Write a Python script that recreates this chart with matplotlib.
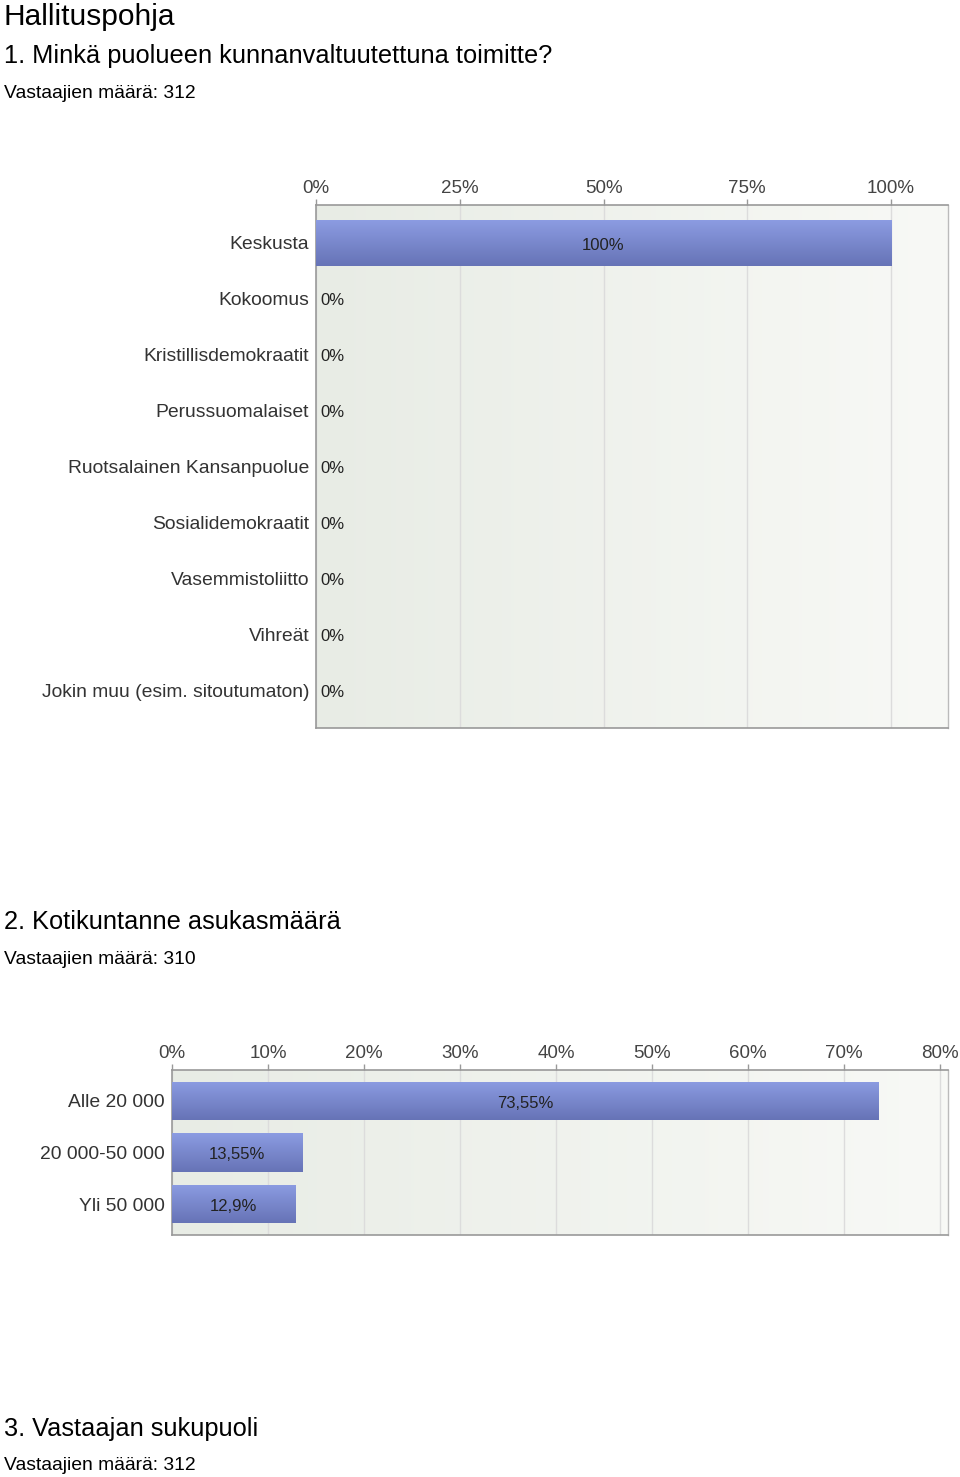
import matplotlib
matplotlib.use('Agg')
import matplotlib.pyplot as plt
import numpy as np
from matplotlib.colors import LinearSegmentedColormap

plt.rcParams['font.family'] = ['Liberation Sans', 'DejaVu Sans']

# data
puolueet = ['Keskusta', 'Kokoomus', 'Kristillisdemokraatit', 'Perussuomalaiset',
            'Ruotsalainen Kansanpuolue', 'Sosialidemokraatit', 'Vasemmistoliitto',
            'Vihreät', 'Jokin muu (esim. sitoutumaton)']
puolue_pct = [100, 0, 0, 0, 0, 0, 0, 0, 0]
puolue_labels = ['100%', '0%', '0%', '0%', '0%', '0%', '0%', '0%', '0%']
puolue_ticks = [0, 25, 50, 75, 100]

koko = ['Alle 20 000', '20 000-50 000', 'Yli 50 000']
koko_pct = [73.55, 13.55, 12.9]
koko_labels = ['73,55%', '13,55%', '12,9%']
koko_ticks = [0, 10, 20, 30, 40, 50, 60, 70, 80]

bg_cmap = LinearSegmentedColormap.from_list('bg', ['#e8ece5', '#f8f9f6'])
bar_cmap = LinearSegmentedColormap.from_list('bar', ['#8c9ce2', '#6673b6'])

fig = plt.figure(figsize=(9.6, 14.77), dpi=100)


def draw_chart(rect, cats, vals, labels, ticks, xmax, margin, bar_h):
    ax = fig.add_axes(rect)
    ax.set_facecolor('none')
    # background gradient
    grad = np.linspace(0, 1, 256).reshape(1, -1)
    ax.imshow(grad, cmap=bg_cmap, aspect='auto', extent=[0, 1, 0, 1],
              transform=ax.transAxes, zorder=0)
    y = np.arange(len(cats))
    bars = ax.barh(y, vals, height=bar_h, color='none', edgecolor='none', zorder=3)
    vgrad = np.linspace(0, 1, 256).reshape(-1, 1)
    for b in bars:
        if b.get_width() <= 0:
            continue
        x0, y0 = b.get_x(), b.get_y()
        im = ax.imshow(vgrad, cmap=bar_cmap, aspect='auto',
                       extent=[x0, x0 + b.get_width(), y0 + b.get_height(), y0],
                       zorder=3)
        im.set_clip_path(b)
    for b, v, lab in zip(bars, vals, labels):
        cy = b.get_y() + b.get_height() / 2
        if v > 0:
            ax.annotate(lab, (b.get_width() / 2, cy), xytext=(0, -1.5),
                        textcoords='offset points', ha='center', va='center',
                        fontsize=12, color='#222222', zorder=5)
        else:
            ax.annotate(lab, (0, cy), xytext=(3, -1.5), textcoords='offset points',
                        ha='left', va='center', fontsize=12, color='#222222', zorder=5)
    ax.set_xlim(0, xmax)
    ax.set_ylim(len(cats) - 1 + margin, -margin)
    ax.set_xticks(ticks)
    ax.set_xticklabels([f'{t}%' for t in ticks])
    ax.xaxis.tick_top()
    ax.tick_params(axis='x', length=4, width=1, color='#999999', pad=1.5,
                   labelsize=13.5, labelcolor='#444444')
    ax.set_yticks(y)
    ax.set_yticklabels(cats)
    ax.tick_params(axis='y', length=0, pad=5, labelsize=13.9, labelcolor='#333333')
    for lab in ax.get_yticklabels():
        lab.set_y(lab.get_position()[1])
    ax.grid(axis='x', color='#dcdcdc', linewidth=1, zorder=1)
    ax.set_axisbelow(True)
    for s in ['top', 'left', 'bottom']:
        ax.spines[s].set_color('#999999')
        ax.spines[s].set_linewidth(1.2)
    ax.spines['right'].set_color('#bbbbbb')
    ax.spines['right'].set_linewidth(1)
    return ax


def px(x, y):
    return x / 960, 1 - y / 1477


# texts
fig.text(*px(4, 17), 'Hallituspohja', fontsize=21.5, va='center', color='black')
fig.text(*px(4, 56), '1. Minkä puolueen kunnanvaltuutettuna toimitte?', fontsize=18.3,
         va='center', color='black')
fig.text(*px(4, 93), 'Vastaajien määrä: 312', fontsize=13.9, va='center', color='black')

draw_chart([316 / 960, 1 - 728 / 1477, 632 / 960, 523 / 1477],
           puolueet, puolue_pct, puolue_labels, puolue_ticks, 109.9, 0.68, 0.82)

fig.text(*px(4, 922), '2. Kotikuntanne asukasmäärä', fontsize=18.3, va='center', color='black')
fig.text(*px(4, 959), 'Vastaajien määrä: 310', fontsize=13.9, va='center', color='black')

draw_chart([172 / 960, 1 - 1235 / 1477, 776 / 960, 165 / 1477],
           koko, koko_pct, koko_labels, koko_ticks, 80.83, 0.6, 0.74)

fig.text(*px(4, 1429), '3. Vastaajan sukupuoli', fontsize=18.3, va='center', color='black')
fig.text(*px(4, 1465), 'Vastaajien määrä: 312', fontsize=13.9, va='center', color='black')

fig.savefig('out.png', dpi=100)
